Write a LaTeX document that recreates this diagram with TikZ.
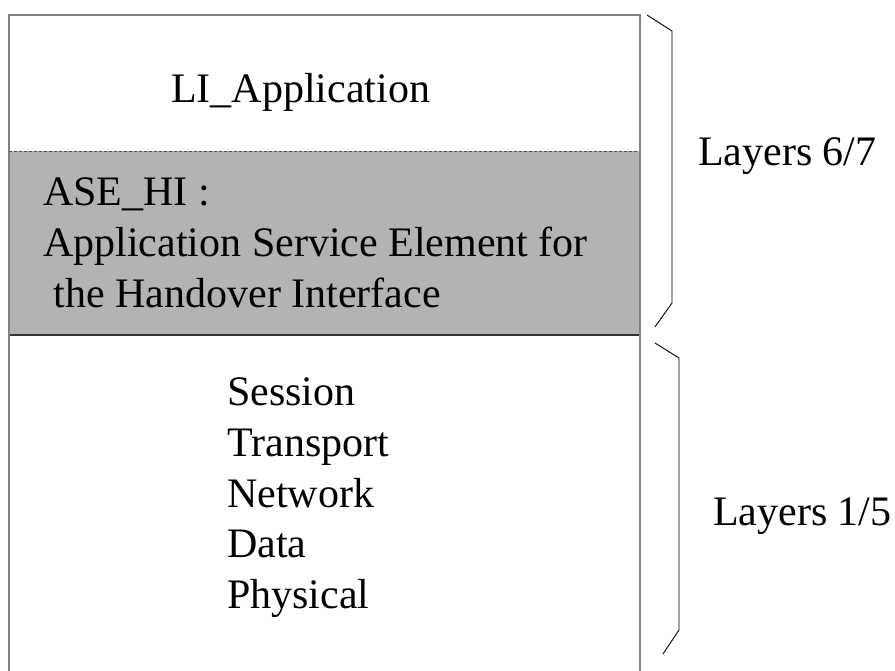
\documentclass[tikz,border=0pt]{standalone}
\usepackage{fontspec}
\setmainfont{Liberation Serif}
\begin{document}
\begin{tikzpicture}[x=1pt,y=-1pt,
  txt/.style={inner sep=0pt,anchor=base west,font=\fontsize{42}{48}\selectfont},
  boxline/.style={draw=black!50,line width=1.6pt},
  sepline/.style={draw=black!80,line width=1.6pt},
  dashline/.style={draw=black!70,line width=0.8pt,dash pattern=on 3pt off 2pt},
  bracel/.style={draw=black,line width=0.9pt,line join=miter}]
\useasboundingbox (0,0) rectangle (895,670);
\fill[fill={rgb,255:red,179;green,179;blue,179}] (9,151) rectangle (640,335);
\draw[dashline] (9,151) -- (640,151);
\draw[sepline] (9,335) -- (640,335);
\draw[boxline] (9,672) -- (9,15) -- (640,15) -- (640,672);
% braces
\coordinate (b1a) at (647,15);
\coordinate (b1b) at (672,31);
\coordinate (b1c) at (672,303);
\coordinate (b1d) at (655,327);
\draw[bracel] (b1a) -- (b1b) -- (b1c) -- (b1d);
\coordinate (b2a) at (655,343);
\coordinate (b2b) at (679,358);
\coordinate (b2c) at (679,630);
\coordinate (b2d) at (663,654);
\draw[bracel] (b2a) -- (b2b) -- (b2c) -- (b2d);
% texts
\node[txt,anchor=base] (li) at (300.5,102) {LI\_Application};
\node[txt] (ase1) at (43,205) {ASE\_HI :};
\node[txt] (ase2) at (43,256) {Application Service Element for};
\node[txt] (ase3) at (43,307) {\ the Handover Interface};
\node[txt] (ses) at (227,405) {Session};
\node[txt] (tra) at (227,456) {Transport};
\node[txt] (net) at (227,507) {Network};
\node[txt] (dat) at (227,557) {Data};
\node[txt] (phy) at (227,608) {Physical};
\node[txt] (l67) at (698,165) {Layers 6/7};
\node[txt] (l15) at (713,525) {Layers 1/5};
\end{tikzpicture}
\end{document}
